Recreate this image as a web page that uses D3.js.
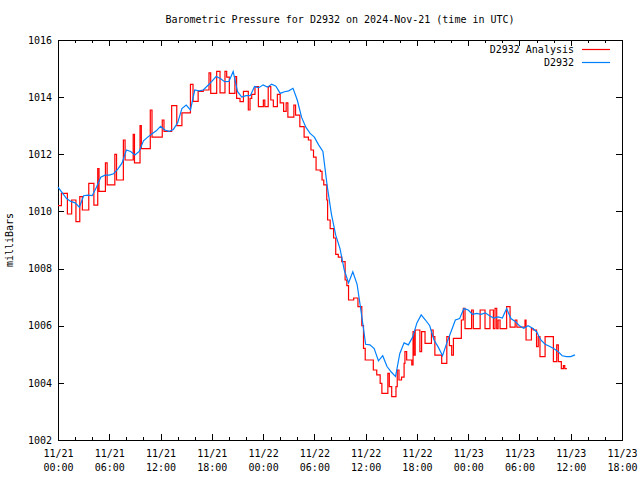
<!DOCTYPE html>
<html><head><meta charset="utf-8">
<script src="https://cdn.jsdelivr.net/npm/d3@7"></script>
<style>
body{margin:0;background:#fff;}
text{font-family:"DejaVu Sans Mono",monospace;font-size:10px;fill:#000;}
</style></head>
<body><svg id="c" width="640" height="480"></svg>
<script>
const title = "Barometric Pressure for D2932 on 2024-Nov-21 (time in UTC)";
const yLabel = "milliBars";
const seriesNames = ["D2932 Analysis", "D2932"];
const yTicks = [1002,1004,1006,1008,1010,1012,1014,1016];
const xTickHours = [0,6,12,18,24,30,36,42,48,54,60,66];
const xTickDates = ["11/21","11/21","11/21","11/21","11/22","11/22","11/22","11/22","11/23","11/23","11/23","11/23"];
const xTickTimes = ["00:00","06:00","12:00","18:00","00:00","06:00","12:00","18:00","00:00","06:00","12:00","18:00"];

// D2932 observations, every 0.5 h from 11/21 00:00
const obsStep = 0.5;
const obsValues = [
1010.85,1010.65,1010.45,1010.35,1010.3,1010.15,1010.55,1010.57,1010.55,1010.85,
1011.2,1011.27,1011.27,1011.32,1011.48,1011.7,1012.15,1012.1,1011.98,1012.1,
1012.47,1012.6,1012.72,1012.82,1012.98,1012.85,1012.8,1012.87,1013.1,1013.6,
1013.72,1013.55,1014.25,1014.22,1014.25,1014.4,1014.55,1014.72,1014.65,1014.54,
1014.55,1014.9,1014.2,1014.0,1014.05,1014.05,1014.37,1014.33,1014.43,1014.35,
1014.45,1014.38,1014.13,1014.19,1014.22,1014.31,1013.9,1013.3,1012.95,1012.73,
1012.6,1012.33,1012.1,1010.9,1009.9,1009.17,1008.7,1007.95,1007.5,1007.89,
1007.45,1006.43,1005.35,1005.33,1005.2,1004.77,1004.95,1004.57,1004.38,1004.22,
1005.03,1005.4,1005.33,1005.6,1006.1,1006.38,1006.2,1006.0,1005.5,1005.25,
1004.95,1005.4,1005.8,1006.2,1006.25,1006.6,1006.55,1006.4,1006.43,1006.4,
1006.45,1006.35,1006.27,1006.31,1006.27,1006.6,1006.25,1006.15,1006.0,1005.91,
1006.0,1005.92,1005.79,1005.5,1005.35,1005.28,1005.2,1005.1,1004.95,1004.92,
1004.92,1004.98];

// D2932 Analysis: change points (hours since 11/21 00:00, value)
const anaHours = [
0,0.4,1.1,1.6,2.1,2.55,2.85,3.6,4.2,4.65,4.8,5.55,5.75,6.65,6.85,7.65,7.85,8.8,8.95,9.6,
9.75,10.8,11.0,12.2,12.4,13.3,13.9,14.5,15.5,15.8,16.4,17.0,17.67,17.87,18.57,18.96,19.54,19.74,20.05,20.7,
20.9,21.3,21.7,22.27,22.47,22.67,23.05,23.45,24.03,24.2,24.6,24.9,25.2,25.67,26.0,26.4,26.7,26.9,27.6,27.8,
28.3,28.8,29.3,29.6,29.9,30.2,30.7,30.9,31.1,31.45,31.55,31.85,32.25,32.5,32.8,33.2,33.6,33.8,34.0,34.6,
35.1,35.55,35.75,35.95,36.9,37.3,37.7,37.9,38.6,38.77,39.05,39.55,39.7,39.9,40.2,40.5,40.6,40.8,41.4,41.55,
41.65,41.8,42.35,42.55,42.95,43.7,43.9,44.1,44.9,45.5,45.8,46.07,46.27,47.2,47.43,47.63,48.4,48.6,49.4,49.97,
50.55,50.95,51.14,51.34,51.5,51.73,52.5,52.9,53.5,53.7,54.65,54.77,55.4,55.6,56.0,56.2,56.4,57.0,57.97,58.36,
58.55,58.9,59.14,59.3,59.55];
const anaValues = [
1010.2,1010.63,1009.91,1010.4,1009.64,1010.52,1010.05,1010.98,1010.22,1011.5,1010.7,1011.7,1010.93,1012.0,1011.1,1012.5,1011.8,1012.7,1011.7,1013.0,
1012.2,1013.55,1012.6,1013.2,1012.8,1013.7,1013.0,1013.45,1014.45,1013.85,1014.2,1014.25,1014.85,1014.13,1014.9,1014.15,1014.9,1014.7,1014.13,1014.72,
1013.96,1013.84,1014.2,1013.55,1013.96,1014.1,1014.37,1013.67,1013.9,1013.67,1014.37,1013.9,1013.67,1014.1,1013.8,1013.5,1013.8,1013.3,1013.72,1013.37,
1012.97,1012.6,1012.5,1012.15,1011.9,1011.45,1011.4,1011.1,1010.93,1010.4,1009.7,1009.4,1009.07,1008.5,1008.4,1008.24,1007.6,1007.4,1006.9,1006.97,
1006.67,1006.0,1005.21,1004.8,1004.45,1004.28,1003.98,1003.63,1004.33,1003.87,1003.52,1003.87,1004.45,1004.1,1004.2,1004.68,1005.09,1004.8,1004.63,1005.79,
1004.97,1005.85,1005.09,1005.79,1005.38,1005.85,1005.62,1004.97,1004.68,1005.62,1005.3,1004.97,1005.56,1006.2,1006.61,1005.9,1006.55,1005.9,1006.55,1005.9,
1006.55,1005.9,1006.61,1005.9,1006.2,1005.9,1006.67,1005.95,1006.2,1005.95,1006.2,1005.5,1005.9,1005.85,1005.27,1005.62,1004.92,1005.62,1004.74,1005.33,
1004.74,1004.5,1004.6,1004.5,1004.5];

const colors = ["#ff0000", "#0080ff"];

const svg = d3.select("#c");
const L = 58, R = 622, T = 40, B = 440;
const x = d3.scaleLinear().domain([0, 66]).range([L, R]);
const y = d3.scaleLinear().domain([1002, 1016]).range([B, T]);

svg.append("text").attr("x", (L+R)/2).attr("y", 23).attr("text-anchor","middle").text(title);
svg.append("text").attr("transform","translate(13,"+((T+B)/2)+") rotate(-90)").attr("text-anchor","middle").text(yLabel);

const minorHours = d3.range(0, 67, 2).filter(h => h % 6 !== 0);

function styleAxis(g){ g.select(".domain").remove(); g.selectAll("line").attr("stroke","#000").attr("shape-rendering","crispEdges"); }

// bottom axis
const gB = svg.append("g").attr("transform","translate(0,"+B+")")
  .call(d3.axisBottom(x).tickValues(xTickHours).tickSizeInner(-6).tickSizeOuter(0).tickPadding(8).tickFormat(""));
styleAxis(gB);
gB.selectAll(".tick text").remove();
gB.selectAll(".tick").append("text").attr("text-anchor","middle").attr("y",17)
  .each(function(d,i){
    const t = d3.select(this);
    t.append("tspan").attr("x",0).attr("dy",0).text(xTickDates[i]);
    t.append("tspan").attr("x",0).attr("dy",14).text(xTickTimes[i]);
  }).style("font-family","DejaVu Sans Mono").style("font-size","10px");
const gBm = svg.append("g").attr("transform","translate(0,"+B+")")
  .call(d3.axisBottom(x).tickValues(minorHours).tickSizeInner(-3).tickSizeOuter(0).tickFormat(""));
styleAxis(gBm);
// top axis
const gT = svg.append("g").attr("transform","translate(0,"+T+")")
  .call(d3.axisTop(x).tickValues(xTickHours).tickSizeInner(-6).tickSizeOuter(0).tickFormat(""));
styleAxis(gT);
const gTm = svg.append("g").attr("transform","translate(0,"+T+")")
  .call(d3.axisTop(x).tickValues(minorHours).tickSizeInner(-3).tickSizeOuter(0).tickFormat(""));
styleAxis(gTm);
// left axis
const gL = svg.append("g").attr("transform","translate("+L+",0)")
  .call(d3.axisLeft(y).tickValues(yTicks).tickSizeInner(-6).tickSizeOuter(0).tickPadding(6).tickFormat(d3.format("d")));
styleAxis(gL);
gL.selectAll("text").attr("x",-6).style("font-family","DejaVu Sans Mono").style("font-size","10px");
// right axis
const gR = svg.append("g").attr("transform","translate("+R+",0)")
  .call(d3.axisRight(y).tickValues(yTicks).tickSizeInner(-6).tickSizeOuter(0).tickFormat(""));
styleAxis(gR);

// frame
svg.append("rect").attr("x",L+0.5).attr("y",T+0.5).attr("width",R-L).attr("height",B-T)
  .attr("fill","none").attr("stroke","#000").attr("stroke-width",1);

const obs = obsValues.map((v,i)=>({h:i*obsStep, v}));
const ana = anaHours.map((h,i)=>({h, v:anaValues[i]}));

const line = d3.line().x(d=>x(d.h)).y(d=>y(d.v));
svg.append("path").datum(ana).attr("fill","none").attr("stroke",colors[0]).attr("stroke-width",1.2)
  .attr("d", line.curve(d3.curveStepAfter)(ana));
svg.append("path").datum(obs).attr("fill","none").attr("stroke",colors[1]).attr("stroke-width",1.2)
  .attr("d", d3.line().x(d=>x(d.h)).y(d=>y(d.v)).curve(d3.curveLinear)(obs));

// legend
const leg = svg.append("g");
seriesNames.forEach((n,i)=>{
  const yy = 53 + i*13;
  leg.append("text").attr("x",574).attr("y",yy).attr("text-anchor","end").text(n);
  leg.append("line").attr("x1",582).attr("x2",610).attr("y1",yy-3.5).attr("y2",yy-3.5)
    .attr("stroke",colors[i]).attr("stroke-width",1.2);
});
</script></body></html>
